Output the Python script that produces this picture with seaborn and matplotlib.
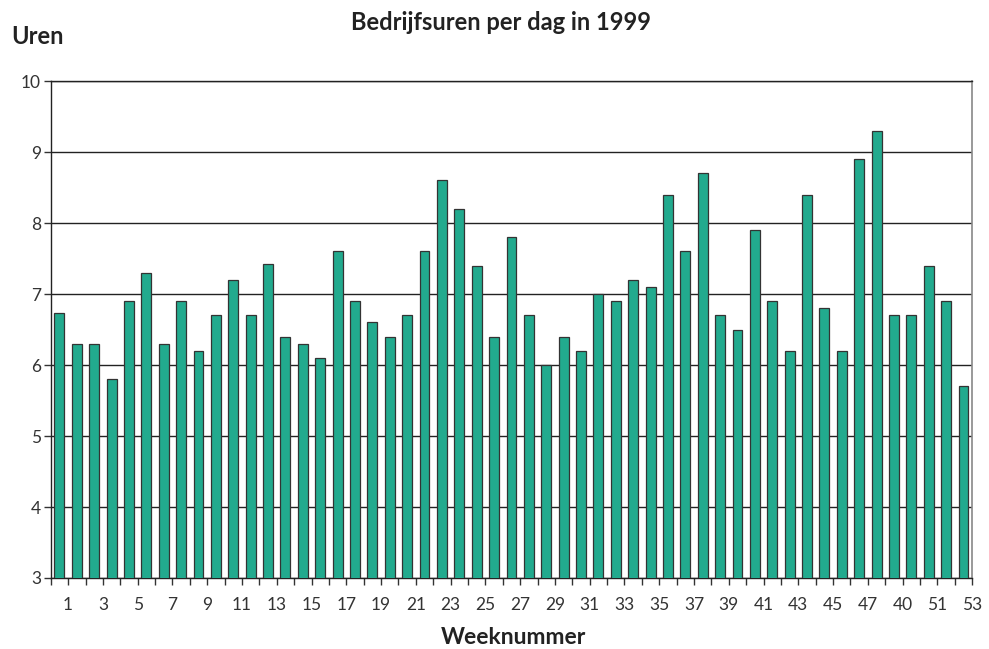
import numpy as np
import matplotlib
matplotlib.use("Agg")
import matplotlib.pyplot as plt
import seaborn as sns

# Data
weeks = list(range(1, 54))
hours = [6.73, 6.3, 6.3, 5.8, 6.9, 7.3, 6.3, 6.9, 6.2, 6.7,
         7.2, 6.7, 7.42, 6.4, 6.3, 6.1, 7.6, 6.9, 6.6, 6.4,
         6.7, 7.6, 8.6, 8.2, 7.4, 6.4, 7.8, 6.7, 6.0, 6.4,
         6.2, 7.0, 6.9, 7.2, 7.1, 8.4, 7.6, 8.7, 6.7, 6.5,
         7.9, 6.9, 6.2, 8.4, 6.8, 6.2, 8.9, 9.3, 6.7, 6.7,
         7.4, 6.9, 5.7]
# labels sit on the boundaries after odd weeks (the original prints "40" for 49)
tick_labels = ["1", "3", "5", "7", "9", "11", "13", "15", "17", "19", "21",
               "23", "25", "27", "29", "31", "33", "35", "37", "39", "41",
               "43", "45", "47", "40", "51", "53"]
y_ticks = [3, 4, 5, 6, 7, 8, 9, 10]

sns.set_style("white")
plt.rcParams['font.family'] = ['Lato', 'DejaVu Sans']

fig = plt.figure(figsize=(9.89, 6.49), dpi=100)
ax = fig.add_axes([0.0513, 0.1094, 0.9317, 0.7656])

sns.barplot(x=weeks, y=hours, color="#22aa8e", saturation=1, width=0.57,
            edgecolor="#333333", linewidth=0.9, ax=ax, zorder=3)

ax.set_ylim(3, 10)
ax.set_xlim(-0.5, len(weeks) - 0.5)
ax.set_yticks(y_ticks)
ax.set_yticklabels([str(t) for t in y_ticks], fontsize=12.5, color="#333333")

# tick marks at every category boundary, labels on odd boundaries
bounds = np.arange(-0.5, len(weeks), 1.0)
labels = []
it = iter(tick_labels)
for k in range(len(bounds)):
    labels.append(next(it) if k % 2 == 1 else "")
ax.set_xticks(bounds)
ax.set_xticklabels(labels, fontsize=12.5, color="#333333")
ax.tick_params(axis="x", length=5, width=1, color="#333333", pad=9, direction="out")
ax.tick_params(axis="y", length=5, width=1, color="#333333", pad=2, direction="out")
ax.xaxis.set_ticks_position("bottom")
ax.yaxis.set_ticks_position("left")

ax.grid(axis="y", color="#222222", linewidth=1, zorder=0)
ax.set_axisbelow(True)
for side in ["left", "bottom", "top"]:
    ax.spines[side].set_visible(True)
    ax.spines[side].set_color("#222222")
    ax.spines[side].set_linewidth(1)
ax.spines["right"].set_visible(True)
ax.spines["right"].set_color("#888888")
ax.spines["right"].set_linewidth(1.2)

ax.set_xlabel("")
ax.set_ylabel("")
fig.text(0.507, 0.966, "Bedrijfsuren per dag in 1999", ha="center", va="center",
         fontsize=17, fontweight="bold", color="#222222")
fig.text(0.011, 0.943, "Uren", ha="left", va="center",
         fontsize=17, fontweight="bold", color="#222222")
fig.text(0.519, 0.018, "Weeknummer", ha="center", va="center",
         fontsize=16.5, fontweight="bold", color="#222222")

fig.savefig("out.png", dpi=100)
